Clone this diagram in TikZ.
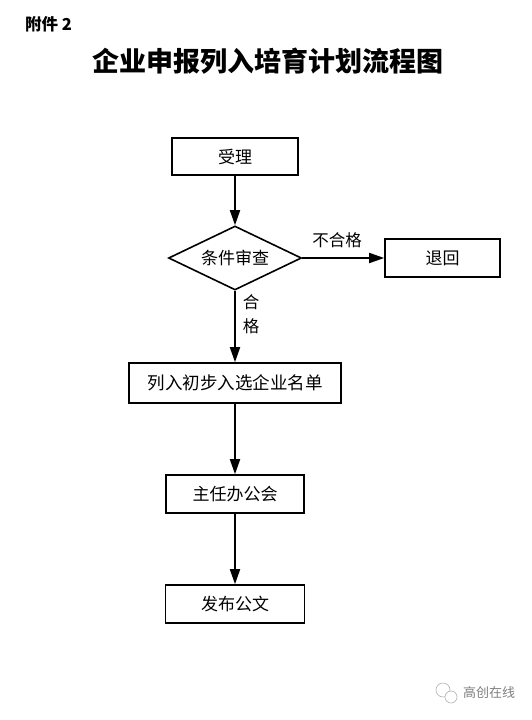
\documentclass[tikz,border=0pt]{standalone}
\usepackage{fontspec}
\setmainfont{Liberation Sans}
\newfontfamily\cjk{Noto Sans CJK SC}
\usetikzlibrary{shapes.geometric,arrows.meta}
\begin{document}
\begin{tikzpicture}[x=1pt,y=-1pt,
  box/.style={draw,line width=1.6pt,inner sep=0pt,font=\cjk\fontsize{17}{17}\selectfont},
  dia/.style={draw,diamond,aspect=2,line width=1.6pt,inner sep=0pt,minimum width=133pt,minimum height=64pt,font=\cjk\fontsize{17}{17}\selectfont},
  arr/.style={line width=1.8pt,-{Triangle[length=15pt,width=10pt]}},
  lbl/.style={font=\cjk\fontsize{16.5}{16.5}\selectfont,inner sep=0pt}]
\useasboundingbox[fill=white] (0,0) rectangle (531,720);
\node[font=\cjk\bfseries\fontsize{16.5}{16.5}\selectfont,anchor=west,inner sep=0pt] (fj) at (25,24) {附件 2};
\node[font=\cjk\bfseries\fontsize{27}{27}\selectfont,inner sep=0pt] (title) at (268,61) {企业申报列入培育计划流程图};
\node[box,minimum width=126pt,minimum height=37pt] (sl) at (235,156.5) {受理};
\node[dia] (sc) at (235,258) {条件审查};
\node[box,minimum width=115pt,minimum height=38pt] (th) at (442.5,258) {退回};
\node[box,minimum width=212pt,minimum height=40pt,font=\cjk\fontsize{17.5}{17.5}\selectfont] (lr) at (235,383) {列入初步入选企业名单};
\node[box,minimum width=138pt,minimum height=38pt] (zr) at (235,494) {主任办公会};
\node[box,minimum width=139pt,minimum height=38pt] (fb) at (235,604) {发布公文};
\draw[arr] (sl) -- (sc.north);
\draw[arr] (sc.east) -- (th.west);
\draw[arr] (sc.south) -- (lr.north);
\draw[arr] (lr) -- (zr);
\draw[arr] (zr) -- (fb);
\node[lbl] (bhg) at (337,240) {不合格};
\node[lbl] (h1) at (251,302) {合};
\node[lbl] (h2) at (251,326) {格};
\draw[gray!60,line width=0.6pt] (443,690) circle (7pt);
\draw[gray!60,line width=0.6pt,fill=white] (451,697) circle (6pt);
\node[font=\cjk\fontsize{13}{13}\selectfont,text=gray,anchor=west,inner sep=0pt] (wm) at (463,693) {高创在线};
\end{tikzpicture}
\end{document}
